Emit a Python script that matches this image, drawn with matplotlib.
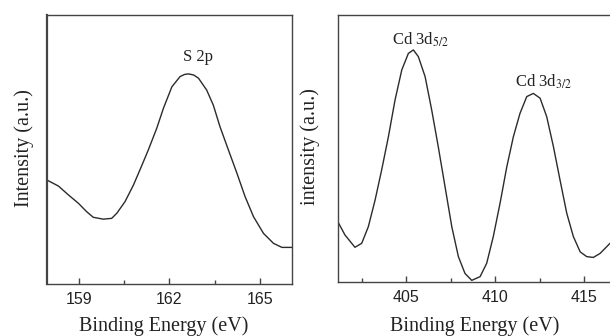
import matplotlib
matplotlib.use("Agg")
import matplotlib.pyplot as plt
from matplotlib.ticker import MultipleLocator

# S 2p spectrum, intensity in arbitrary units
s2p_energy = [157.99, 158.33, 158.66, 158.99, 159.26, 159.48, 159.81, 160.09,
              160.26, 160.53, 160.81, 161.08, 161.30, 161.58, 161.80, 162.08,
              162.35, 162.50, 162.63, 162.80, 162.96, 163.23, 163.45, 163.67,
              163.95, 164.23, 164.50, 164.78, 165.11, 165.44, 165.72, 166.05]
s2p_intensity = [38.4, 36.4, 33.1, 30.0, 26.9, 24.8, 24.1, 24.4,
                 26.3, 30.6, 36.8, 43.9, 49.8, 57.9, 65.3, 73.3,
                 77.1, 77.9, 78.1, 77.7, 76.5, 72.1, 66.5, 58.5,
                 49.8, 41.2, 32.5, 25.0, 18.8, 15.1, 13.6, 13.6]

# Cd 3d spectrum
cd3d_energy = [401.20, 401.57, 402.13, 402.51, 402.88, 403.26, 403.63, 404.01,
               404.38, 404.76, 405.13, 405.41, 405.69, 406.07, 406.44, 406.81,
               407.19, 407.57, 407.94, 408.31, 408.69, 409.16, 409.53, 409.90,
               410.28, 410.66, 411.03, 411.40, 411.78, 412.15, 412.53, 412.90,
               413.28, 413.65, 414.03, 414.40, 414.78, 415.15, 415.52, 415.90,
               416.46]
cd3d_intensity = [22.1, 17.5, 12.9, 14.4, 20.6, 30.6, 41.9, 54.4,
                  68.1, 79.4, 85.6, 86.9, 84.4, 76.9, 64.4, 50.6,
                  35.6, 20.6, 9.4, 3.1, 0.5, 1.9, 6.9, 16.9,
                  29.4, 43.1, 54.4, 63.1, 69.4, 70.6, 68.8, 61.9,
                  50.6, 38.1, 25.6, 16.9, 11.2, 9.4, 9.1, 10.6,
                  14.4]

LINE = "#2b2b2b"
EDGE = "#444444"

plt.rcParams["font.family"] = ["Liberation Serif", "DejaVu Serif"]
plt.rcParams["mathtext.fontset"] = "stix"

fig = plt.figure(figsize=(6.1, 3.36), dpi=100)
ax1 = fig.add_axes([0.0770, 0.1548, 0.4016, 0.8006])
ax2 = fig.add_axes([0.5536, 0.1616, 0.4497, 0.7938])


def style_axes(ax):
    for sp in ax.spines.values():
        sp.set_color(EDGE)
        sp.set_linewidth(1.0)
    ax.set_yticks([])
    ax.tick_params(axis="x", which="both", direction="in", color=EDGE,
                   labelsize=11.5, pad=6, labelfontfamily="Liberation Sans",
                   labelcolor="#222222")
    ax.tick_params(axis="x", which="major", length=4, width=1)
    ax.tick_params(axis="x", which="minor", length=3, width=1)


# left panel: S 2p
ax1.plot(s2p_energy, s2p_intensity, color=LINE, lw=1.0)
ax1.set_xlim(157.95, 166.05)
ax1.set_ylim(0, 100)
ax1.xaxis.set_major_locator(MultipleLocator(3))
ax1.xaxis.set_minor_locator(MultipleLocator(1.5))
style_axes(ax1)
ax1.spines["left"].set_linewidth(1.6)
ax1.set_xlabel("Binding Energy (eV)", fontsize=14.5, color="#222222")
ax1.set_ylabel("Intensity (a.u.)", fontsize=14.5, color="#222222")
ax1.xaxis.set_label_coords(0.478, -0.119)
ax1.yaxis.set_label_coords(-0.053, 0.506)
ax1.text(162.96, 84.5, "S 2p", fontsize=12, ha="center", va="center",
         color="#222222")

# right panel: Cd 3d
ax2.plot(cd3d_energy, cd3d_intensity, color=LINE, lw=1.0)
ax2.set_xlim(401.16, 416.57)
ax2.set_ylim(0, 100)
ax2.xaxis.set_major_locator(MultipleLocator(5))
ax2.xaxis.set_minor_locator(MultipleLocator(2.5))
style_axes(ax2)
ax2.set_xlabel("Binding Energy (eV)", fontsize=14.5, color="#222222")
ax2.set_ylabel("intensity (a.u.)", fontsize=14.5, color="#222222")
ax2.xaxis.set_label_coords(0.50, -0.129)
ax2.yaxis.set_label_coords(-0.064, 0.506)
ax2.text(405.79, 90.6, r"Cd 3d$_{5/2}$", fontsize=12, ha="center",
         va="center", color="#222222")
ax2.text(412.71, 75.0, r"Cd 3d$_{3/2}$", fontsize=12, ha="center",
         va="center", color="#222222")

fig.savefig("out.png", dpi=100, facecolor="white")
